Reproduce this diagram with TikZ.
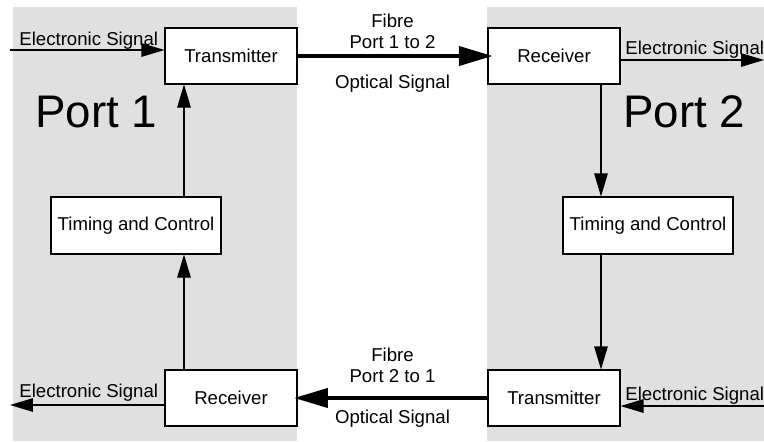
\documentclass[tikz,border=0pt]{standalone}
\usepackage{fontspec}
\setmainfont{Liberation Sans}
\usepackage{xcolor}
\usepackage{tikz}
\usetikzlibrary{arrows.meta, positioning}
\definecolor{portbg}{RGB}{224, 224, 224}

\begin{document}
\begin{tikzpicture}[x=0.02cm, y=-0.02cm,
			box/.style={rectangle, draw=black, fill=white, line width=0.6pt,
				font=\fontsize{10.6}{12.2}\selectfont, align=center, inner sep=0pt,
				minimum width=2.64cm, minimum height=1.12cm},
			timing/.style={box, minimum width=3.4cm, minimum height=1.14cm},
			lbl/.style={font=\fontsize{10.6}{12.2}\selectfont, align=center, inner sep=0pt},
			portlbl/.style={font=\fontsize{26}{30}\selectfont, inner sep=0pt, anchor=base west},
			sig/.style={line width=0.6pt, -{Triangle[length=0.46cm, width=0.27cm]}},
			fibre/.style={line width=2.3pt, -{Triangle[length=0.68cm, width=0.38cm]}}]
			
			\useasboundingbox (0,0) rectangle (764,441);
			\fill[portbg] (13,7) rectangle (297,441);
			\fill[portbg] (487,7) rectangle (764,441);
			
			\node[portlbl] (p1) at (35,127) {Port 1};
			\node[portlbl] (p2) at (623,127) {Port 2};
			
			\node[box] (tx1) at (231,56) {Transmitter};
			\node[box, right=3.8cm of tx1] (rx2) {Receiver};
			\node[box, below=5.7cm of rx2] (tx2) {Transmitter};
			\node[box, left=3.8cm of tx2] (rx1) {Receiver};
			\node[timing] (tc1) at (136,225.5) {Timing and Control};
			\node[timing] (tc2) at (648,225.5) {Timing and Control};
			
			\coordinate (v1) at (184,0);
			\coordinate (v2) at (601,0);
			\coordinate (in1) at (10,50);
			\coordinate (out2) at (764,60);
			\coordinate (out1) at (10,405);
			\coordinate (in2) at (764,406);
			
			\draw[fibre, shorten >=-3pt] (tx1) -- node[lbl, above=2.9pt] {Fibre\\Port 1 to 2} node[lbl, below=9.6pt] {Optical Signal} (rx2);
			\draw[fibre, shorten >=-2pt] (tx2) -- node[lbl, above=7.4pt] {Fibre\\Port 2 to 1} node[lbl, below=5.7pt] {Optical Signal} (rx1);
			
			\draw[sig] (in1) -- (in1 -| tx1.west);
			\draw[sig] (rx2.east |- out2) -- (out2);
			\draw[sig] (rx1.west |- out1) -- (out1);
			\draw[sig] (in2) -- (in2 -| tx2.east);
			\node[lbl, anchor=base west] (es1) at (19,45) {Electronic Signal};
			\node[lbl, anchor=base west] (es2) at (625,54) {Electronic Signal};
			\node[lbl, anchor=base west] (es3) at (19,397) {Electronic Signal};
			\node[lbl, anchor=base west] (es4) at (625,400) {Electronic Signal};
			
			\draw[sig] (tc1.north -| v1) -- (tx1.south -| v1);
			\draw[sig] (rx1.north -| v1) -- (tc1.south -| v1);
			\draw[sig] (rx2.south -| v2) -- (tc2.north -| v2);
			\draw[sig] (tc2.south -| v2) -- (tx2.north -| v2);
		\end{tikzpicture}
\end{document}
